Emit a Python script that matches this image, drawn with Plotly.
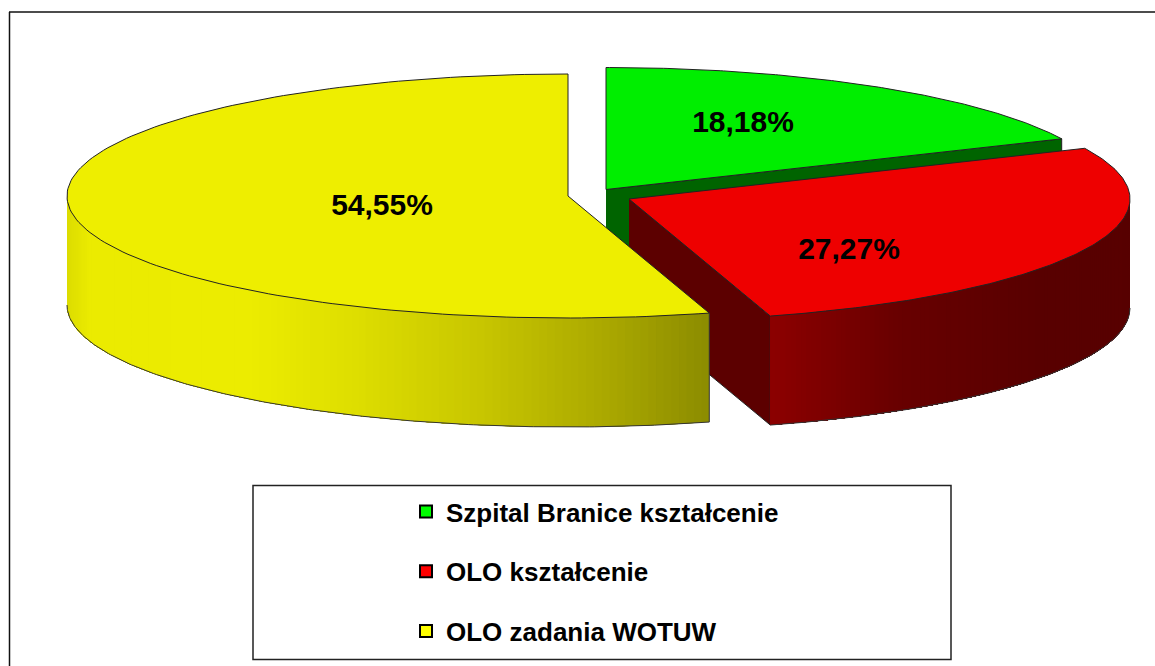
import numpy as np
import plotly.graph_objects as go

# ---- data ----
categories = ["Szpital Branice kształcenie", "OLO kształcenie", "OLO zadania WOTUW"]
shares = [18.18, 27.27, 54.55]
top_colors = ["#00EE00", "#EE0000", "#EEEE00"]
legend_colors = ["#00FF00", "#FF0000", "#FFFF00"]
cut_wall_colors = ["#006400", "#5C0000", None]

# ---- projection of the tilted, exploded pie onto the page (pixels) ----
W, H = 1155, 666
RX, RY, DEPTH = 501, 122, 109
apex = [(606, 189.5), (629, 199), (568, 196)]
label_xy = [(743, 124), (849, 251), (382, 207)]
# wall shading: x stop -> colour
yellow_stops = ([67, 90, 250, 354, 480, 606, 709],
                [(0xDC, 0xDC), (0xEB, 0xEB), (0xEC, 0xEC), (0xDE, 0xDE),
                 (0xC8, 0xC6), (0xAA, 0xA8), (0x8C, 0x8C)])
red_stops = ([771, 900, 1040, 1131], [0x8C, 0x68, 0x58, 0x58])

fracs = np.cumsum([0] + shares) / sum(shares)
t0 = fracs[:-1] * 2 * np.pi
t1 = fracs[1:] * 2 * np.pi


def arc(cx, cy, a, b, n=160, dz=0.0):
    t = np.linspace(a, b, n)
    return cx + RX * np.sin(t), cy - RY * np.cos(t) + dz


fig = go.Figure()


def poly(x, y, fill, line=None, width=1):
    fig.add_trace(go.Scatter(
        x=list(x), y=list(y), mode="lines", fill="toself", fillcolor=fill,
        line=dict(color=line or fill, width=width if line else 0),
        hoverinfo="skip", showlegend=False))


def outer_wall(i, colour_at):
    """Curved outer wall: overlapping bands painted from one end to the other."""
    a = max(t0[i], np.pi / 2)
    b = min(t1[i], 3 * np.pi / 2)
    cx, cy = apex[i]
    edges = np.linspace(a, b, 120)
    for u, v in zip(edges[:-1], edges[1:]):
        xa, ya = arc(cx, cy, u, b, 60)
        xb, yb = arc(cx, cy, b, u, 60, DEPTH)
        poly(np.r_[xa, xb], np.r_[ya, yb], colour_at(cx + RX * np.sin(0.5 * (u + v))))
    xb, yb = arc(cx, cy, a, b, 200, DEPTH)
    fig.add_trace(go.Scatter(x=xb, y=yb, mode="lines", line=dict(color="#333333", width=1),
                             hoverinfo="skip", showlegend=False))


def yellow_colour(x):
    r = np.interp(x, yellow_stops[0], [c[0] for c in yellow_stops[1]])
    g = np.interp(x, yellow_stops[0], [c[1] for c in yellow_stops[1]])
    return f"rgb({r:.0f},{g:.0f},0)"


def red_colour(x):
    return f"rgb({np.interp(x, *red_stops):.0f},0,0)"


# green slice: only its trailing cut wall shows
cx, cy = apex[0]
ex, ey = arc(cx, cy, t1[0], t1[0], 1)
poly([cx, ex[0], ex[0], cx], [cy, ey[0], ey[0] + DEPTH, cy + DEPTH], cut_wall_colors[0], "#222222")
xs, ys = arc(cx, cy, t0[0], t1[0])
poly(np.r_[cx, xs, cx], np.r_[cy, ys, cy], top_colors[0], "#222222")

# red slice
cx, cy = apex[1]
ex, ey = arc(cx, cy, t1[1], t1[1], 1)
poly([cx, ex[0], ex[0], cx], [cy, ey[0], ey[0] + DEPTH, cy + DEPTH], cut_wall_colors[1], "#222222")
outer_wall(1, red_colour)
xs, ys = arc(cx, cy, t0[1], t1[1])
poly(np.r_[cx, xs, cx], np.r_[cy, ys, cy], top_colors[1], "#222222")

# yellow slice
outer_wall(2, yellow_colour)
cx, cy = apex[2]
ex, ey = arc(cx, cy, t0[2], t0[2], 1)
fig.add_trace(go.Scatter(x=[ex[0], ex[0]], y=[ey[0], ey[0] + DEPTH], mode="lines",
                         line=dict(color="#333333", width=1), hoverinfo="skip", showlegend=False))
xs, ys = arc(cx, cy, t0[2], t1[2])
poly(np.r_[cx, xs, cx], np.r_[cy, ys, cy], top_colors[2], "#222222")

# percentage labels
fig.add_trace(go.Scatter(
    x=[p[0] for p in label_xy], y=[p[1] for p in label_xy], mode="text",
    text=[f"<b>{s:.2f}%</b>".replace(".", ",") for s in shares],
    textfont=dict(family="Liberation Sans", size=30, color="black"),
    hoverinfo="skip", showlegend=False))

# legend entries
for name, col in zip(categories, legend_colors):
    fig.add_trace(go.Scatter(
        x=[None], y=[None], mode="markers", name=f"<b>{name}</b>", legendgroup=name,
        marker=dict(symbol="square", size=12, color=col, line=dict(color="black", width=2))))

fig.update_layout(
    width=W, height=H, autosize=False,
    margin=dict(l=0, r=0, t=0, b=0),
    paper_bgcolor="white", plot_bgcolor="white",
    xaxis=dict(range=[0, W], visible=False, fixedrange=True),
    yaxis=dict(range=[H, 0], visible=False, fixedrange=True),
    font=dict(family="Liberation Sans", color="black"),
    legend=dict(x=406 / W, y=1 - 488 / H, xanchor="left", yanchor="top",
                bgcolor="rgba(0,0,0,0)", borderwidth=0, tracegroupgap=23,
                font=dict(family="Liberation Sans", size=26, color="black"),
                traceorder="grouped"),
    shapes=[
        dict(type="rect", xref="x", yref="y", x0=253, x1=951, y0=485.5, y1=659.5,
             line=dict(color="#222222", width=1.5), layer="below"),
        dict(type="line", xref="x", yref="y", x0=9.5, x1=9.5, y0=12, y1=666,
             line=dict(color="#111111", width=1.5), layer="below"),
        dict(type="line", xref="x", yref="y", x0=9, x1=W, y0=12, y1=12,
             line=dict(color="#111111", width=1.5), layer="below"),
    ],
)

fig.write_html(
    "out.html",
    config=dict(displayModeBar=False),
    post_script="document.body.style.margin='0';document.documentElement.style.overflow='hidden';",
)
